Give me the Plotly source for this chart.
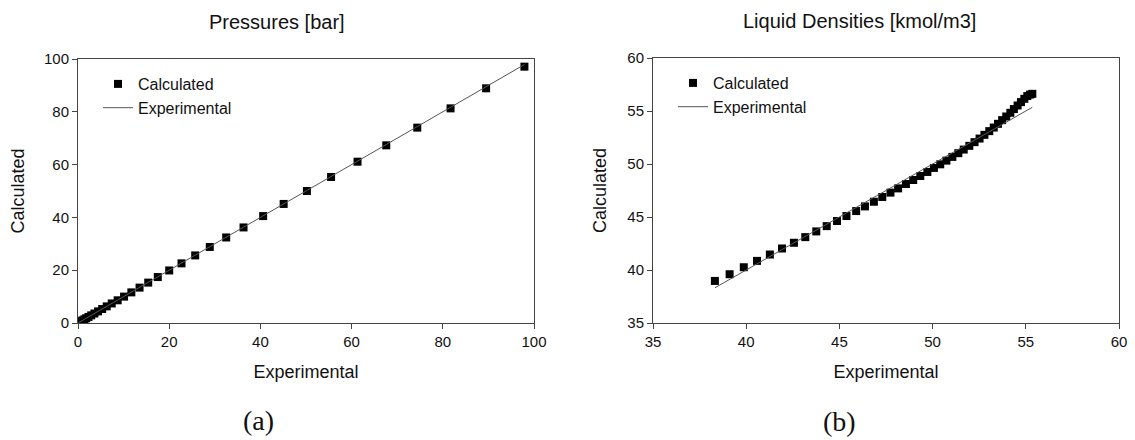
import plotly.graph_objects as go

# ---- data ----
p_exp = [0.05, 0.15, 0.3, 0.5, 0.7, 1.0, 1.4, 1.8, 2.3, 2.9, 3.6, 4.4, 5.3, 6.3, 7.4, 8.7,
         10.1, 11.7, 13.5, 15.4, 17.5, 20.0, 22.7, 25.7, 28.9, 32.5, 36.3, 40.6, 45.1,
         50.2, 55.5, 61.3, 67.6, 74.4, 81.7, 89.5, 97.9]
p_calc = [0.05, 0.15, 0.3, 0.5, 0.7, 1.0, 1.4, 1.8, 2.3, 2.9, 3.6, 4.4, 5.3, 6.3, 7.4, 8.6,
          10.0, 11.6, 13.4, 15.3, 17.4, 19.9, 22.6, 25.6, 28.8, 32.4, 36.2, 40.5, 45.1,
          50.0, 55.3, 61.1, 67.3, 74.0, 81.3, 88.9, 97.1]

d_exp = [38.32, 39.11, 39.87, 40.58, 41.27, 41.92, 42.56, 43.17, 43.76, 44.32, 44.87,
         45.38, 45.90, 46.37, 46.85, 47.30, 47.74, 48.15, 48.57, 48.96, 49.34, 49.72,
         50.07, 50.41, 50.74, 51.06, 51.38, 51.67, 51.97, 52.25, 52.52, 52.78, 53.04,
         53.28, 53.51, 53.73, 53.95, 54.17, 54.36, 54.56, 54.74, 54.92, 55.08, 55.23, 55.35]
d_calc = [38.97, 39.60, 40.26, 40.86, 41.46, 42.03, 42.57, 43.10, 43.64, 44.14, 44.62,
          45.09, 45.56, 46.00, 46.44, 46.89, 47.30, 47.70, 48.11, 48.49, 48.87, 49.25,
          49.63, 49.97, 50.32, 50.67, 51.02, 51.36, 51.71, 52.06, 52.40, 52.75, 53.10,
          53.44, 53.79, 54.14, 54.48, 54.83, 55.18, 55.52, 55.84, 56.15, 56.41, 56.55, 56.62]

p_ticks = [0, 20, 40, 60, 80, 100]
d_ticks = [35, 40, 45, 50, 55, 60]

W, H = 1135, 440
FONT = "Liberation Sans, Arial, sans-serif"
LINE_COLOR = "#555555"
AX_COLOR = "#444444"

fig = go.Figure()

marker = dict(symbol="square", size=8, color="black", line=dict(width=0))

fig.add_trace(go.Scatter(x=p_exp, y=p_calc, mode="markers", name="Calculated",
                         marker=marker, xaxis="x", yaxis="y", legend="legend"))
fig.add_trace(go.Scatter(x=p_exp, y=p_exp, mode="lines", name="Experimental",
                         line=dict(color=LINE_COLOR, width=1), xaxis="x", yaxis="y",
                         legend="legend"))
fig.add_trace(go.Scatter(x=d_exp, y=d_calc, mode="markers", name="Calculated",
                         marker=marker, xaxis="x2", yaxis="y2", legend="legend2"))
fig.add_trace(go.Scatter(x=[d_exp[0], d_exp[-1]], y=[d_exp[0], d_exp[-1]], mode="lines",
                         name="Experimental", line=dict(color=LINE_COLOR, width=1),
                         xaxis="x2", yaxis="y2", legend="legend2"))


def px_x(v):
    return v / W


def px_y(v):
    return 1 - v / H


axis_common = dict(showgrid=False, zeroline=False, showline=True, mirror=True,
                   automargin=False,
                   linecolor=AX_COLOR, linewidth=1, ticks="outside", ticklen=5,
                   tickcolor=AX_COLOR, tickfont=dict(family=FONT, size=15, color="#111"),
                   title_font=dict(family=FONT, size=18, color="#111"))

fig.update_layout(
    width=W, height=H,
    margin=dict(l=0, r=0, t=0, b=0),
    paper_bgcolor="white", plot_bgcolor="white",
    font=dict(family=FONT, color="#111"),
    xaxis=dict(domain=[px_x(78), px_x(534)], range=[0, 100], tickvals=p_ticks,
               anchor="y", title=dict(text="Experimental", standoff=16), **axis_common),
    yaxis=dict(domain=[px_y(323), px_y(59)], range=[0, 100], tickvals=p_ticks,
               anchor="x", title=dict(text="Calculated", standoff=14), **axis_common),
    xaxis2=dict(domain=[px_x(653), px_x(1119)], range=[35, 60], tickvals=d_ticks,
                anchor="y2", title=dict(text="Experimental", standoff=16), **axis_common),
    yaxis2=dict(domain=[px_y(323), px_y(58)], range=[35, 60], tickvals=d_ticks,
                anchor="x2", title=dict(text="Calculated", standoff=16), **axis_common),
    legend=dict(x=px_x(98), y=px_y(67), xanchor="left", yanchor="top",
                bgcolor="rgba(0,0,0,0)", borderwidth=0, tracegroupgap=0,
                font=dict(family=FONT, size=16, color="#111")),
    legend2=dict(x=px_x(673), y=px_y(66), xanchor="left", yanchor="top",
                 bgcolor="rgba(0,0,0,0)", borderwidth=0, tracegroupgap=0,
                 font=dict(family=FONT, size=16, color="#111")),
    showlegend=True,
)

annots = [
    dict(text="Pressures [bar]", x=px_x(277), y=px_y(22), size=20, family=FONT),
    dict(text="Liquid Densities [kmol/m3]", x=px_x(859), y=px_y(21), size=20, family=FONT),
    dict(text="(a)", x=px_x(258), y=px_y(420), size=28, family="Liberation Serif, serif"),
    dict(text="(b)", x=px_x(839), y=px_y(421), size=28, family="Liberation Serif, serif"),
]
for a in annots:
    fig.add_annotation(text=a["text"], x=a["x"], y=a["y"], xref="paper", yref="paper",
                       xanchor="center", yanchor="middle", showarrow=False,
                       font=dict(family=a["family"], size=a["size"], color="#111"))

fig.write_html("out.html")
